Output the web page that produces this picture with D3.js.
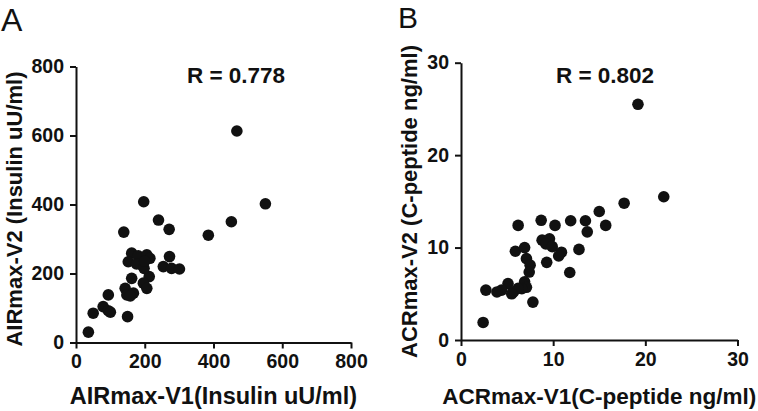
<!DOCTYPE html>
<html><head><meta charset="utf-8">
<script src="https://cdn.jsdelivr.net/npm/d3@7"></script>
<style>
body{margin:0;background:#fff;}
svg{display:block;font-family:"Liberation Sans",Arial,sans-serif;}
</style></head>
<body>
<svg id="chart" width="758" height="411"></svg>
<script>
// Panel A data: AIRmax V1 vs V2 (Insulin uU/ml)
const airV1 = [468,197,551,240,452,271,139,385,162,181,206,215,152,191,176,272,254,278,301,162,213,143,196,206,148,167,158,94,79,94,100,50,150,36,198,200];
const airV2 = [613,408,402,355,350,328,320,311,259,251,254,244,234,225,228,249,220,215,213,186,191,157,172,157,138,143,135,138,104,92,88,85,75,30,215,236];
// Panel B data: ACRmax V1 vs V2 (C-peptide ng/ml)
const acrV1 = [19.2,22.0,17.7,15.0,15.7,13.5,13.7,11.9,10.2,8.7,6.2,12.8,11.8,8.8,9.6,9.2,9.9,10.9,10.6,9.3,5.9,6.9,7.1,7.5,7.4,6.9,7.1,6.6,5.7,5.1,4.4,3.9,2.7,7.8,2.4,6.2,5.5];
const acrV2 = [25.5,15.5,14.8,13.9,12.4,12.9,11.7,12.9,12.4,12.95,12.4,9.8,7.3,10.8,10.95,10.4,10.1,9.5,9.1,8.4,9.6,10.0,8.8,8.1,7.35,6.3,5.7,5.55,5.2,6.1,5.4,5.2,5.4,4.1,1.9,5.6,5.0];
const ticksA = [0,200,400,600,800];
const ticksB = [0,10,20,30];
const panels = [
  {letter:"A", xs:airV1, ys:airV2, ticks:ticksA, dom:[0,800], r:"R = 0.778",
   xt:"AIRmax-V1(Insulin uU/ml)", yt:"AIRmax-V2 (Insulin uU/ml)",
   x0:76, x1:351, y0:342.5, y1:66.5, lx:1, ly:31, lf:32, rx:236, ytx:21.5, yty:209, xtf:23.5},
  {letter:"B", xs:acrV1, ys:acrV2, ticks:ticksB, dom:[0,30], r:"R = 0.802",
   xt:"ACRmax-V1(C-peptide ng/ml)", yt:"ACRmax-V2 (C-peptide ng/ml)",
   x0:461, x1:737.5, y0:340, y1:62.7, lx:398, ly:28, lf:30, rx:605, ytx:417, yty:201.5, xtf:22.5}
];
const svg = d3.select("#chart");
panels.forEach(p=>{
  const g = svg.append("g");
  const x = d3.scaleLinear().domain(p.dom).range([p.x0,p.x1]);
  const y = d3.scaleLinear().domain(p.dom).range([p.y0,p.y1]);
  const xa = g.append("g").attr("transform",`translate(0,${p.y0})`)
    .call(d3.axisBottom(x).tickValues(p.ticks).tickSize(6).tickSizeOuter(0).tickPadding(6));
  const ya = g.append("g").attr("transform",`translate(${p.x0},0)`)
    .call(d3.axisLeft(y).tickValues(p.ticks).tickSize(6).tickSizeOuter(0).tickPadding(6));
  [xa,ya].forEach(a=>{
    a.selectAll("path,line").attr("stroke","#111").attr("stroke-width",2);
    a.selectAll("text").attr("fill","#111").style("font-size","19.5px").style("font-weight","bold");
  });
  g.selectAll("circle").data(p.xs).join("circle")
    .attr("cx",(d)=>x(d)).attr("cy",(d,i)=>y(p.ys[i])).attr("r",5.8).attr("fill","#111");
  g.append("text").attr("x",p.rx).attr("y",82.5).attr("text-anchor","middle")
    .style("font-size","22.5px").style("font-weight","bold").attr("fill","#111").text(p.r);
  g.append("text").attr("x",(p.x0+p.x1)/2).attr("y",404).attr("text-anchor","middle")
    .style("font-size",p.xtf+"px").style("font-weight","bold").attr("fill","#111").text(p.xt);
  g.append("text").attr("transform",`translate(${p.ytx},${p.yty}) rotate(-90)`).attr("text-anchor","middle")
    .style("font-size","22px").style("font-weight","bold").attr("fill","#111").text(p.yt);
  g.append("text").attr("x",p.lx).attr("y",p.ly).style("font-size",p.lf+"px").attr("fill","#111").text(p.letter);
});
</script>
</body></html>
